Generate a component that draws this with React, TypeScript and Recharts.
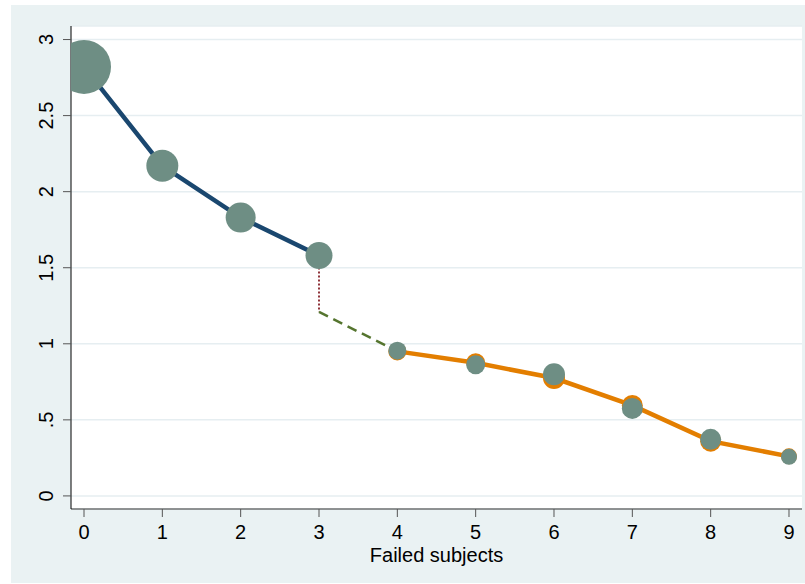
import {
  CartesianGrid,
  ComposedChart,
  Line,
  Scatter,
  XAxis,
  YAxis,
} from "recharts";

// x positions: number of failed subjects
const failed = [0, 1, 2, 3, 4, 5, 6, 7, 8, 9];
// estimate shown by the grey markers
const estimate = [2.82, 2.17, 1.83, 1.58, 0.955, 0.862, 0.8, 0.575, 0.372, 0.257];
// marker weights (area of the circle)
const weight = [729, 256, 225, 182, 81, 90, 121, 110, 110, 64];
// navy segment, x = 0..3
const navyVals = [2.82, 2.17, 1.83, 1.58];
// orange segment, x = 4..9
const orangeVals = [0.95, 0.875, 0.775, 0.595, 0.36, 0.26];
// connector: dotted drop at x=3, dashed link to x=4
const dropVals = [1.58, 1.21];
const linkVals = [1.21, 0.95];

const xTicks = failed;
const yTicks = [0, 0.5, 1, 1.5, 2, 2.5, 3];

const navyData = navyVals.map((v, i) => ({ x: failed[i], y: v }));
const orangeData = orangeVals.map((v, i) => ({ x: failed[i + 4], y: v, w: weight[i + 4] }));
const dropData = dropVals.map((v) => ({ x: failed[3], y: v }));
const linkData = linkVals.map((v, i) => ({ x: failed[3 + i], y: v }));
const markerData = estimate.map((v, i) => ({ x: failed[i], y: v, w: weight[i] }));

const FONT = "'Liberation Sans', Arial, sans-serif";

const fmtY = (v: number) => String(v).replace(/^0\./, ".");

function YTick(props: any) {
  const { x, y, payload } = props;
  const tx = x - 8;
  return (
    <text
      x={tx}
      y={y}
      transform={`rotate(-90, ${tx}, ${y})`}
      textAnchor="middle"
      fontSize={20}
      fontFamily={FONT}
      fill="#000"
    >
      {fmtY(payload.value)}
    </text>
  );
}

const dot = (fill: string) => (p: any) => (
  <circle cx={p.cx} cy={p.cy} r={Math.sqrt(p.payload.w)} fill={fill} />
);

export default function App() {
  return (
    <div
      style={{
        position: "absolute",
        left: 11,
        top: 5,
        width: 794,
        height: 578,
        background: "#eaf2f3",
      }}
    >
      <ComposedChart
        width={794}
        height={578}
        margin={{ top: 21, right: 3, left: 0, bottom: 0 }}
        style={{ fontFamily: FONT }}
      >
        <CartesianGrid
          horizontal
          vertical={false}
          fill="#ffffff"
          stroke="#e6eef1"
          strokeWidth={1.5}
        />
        <XAxis
          type="number"
          dataKey="x"
          domain={[-0.166, 9.166]}
          ticks={xTicks}
          allowDataOverflow
          tickSize={8}
          tickMargin={8}
          axisLine={{ stroke: "#333" }}
          tickLine={{ stroke: "#555" }}
          tick={{ fontSize: 20, fill: "#000", fontFamily: FONT }}
          height={74}
          label={{
            value: "Failed subjects",
            position: "insideBottom",
            offset: 21,
            fontSize: 20,
            fill: "#000",
            fontFamily: FONT,
          }}
        />
        <YAxis
          type="number"
          dataKey="y"
          domain={[-0.086, 3.089]}
          ticks={yTicks}
          allowDataOverflow
          width={60}
          tickSize={8}
          axisLine={{ stroke: "#000" }}
          tickLine={{ stroke: "#555" }}
          tick={<YTick />}
        />
        <Line
          data={navyData}
          dataKey="y"
          stroke="#1a476f"
          strokeWidth={4.5}
          dot={false}
          isAnimationActive={false}
        />
        <Line
          data={dropData}
          dataKey="y"
          stroke="#90353b"
          strokeWidth={2}
          strokeDasharray="2 2"
          dot={false}
          isAnimationActive={false}
        />
        <Line
          data={linkData}
          dataKey="y"
          stroke="#55752f"
          strokeWidth={2.5}
          strokeDasharray="10 6"
          dot={false}
          isAnimationActive={false}
        />
        <Line
          data={orangeData}
          dataKey="y"
          stroke="#e37e00"
          strokeWidth={4.5}
          dot={false}
          isAnimationActive={false}
        />
        <Scatter
          data={orangeData}
          dataKey="y"
          shape={dot("#e37e00")}
          isAnimationActive={false}
        />
        <Scatter
          data={markerData}
          dataKey="y"
          shape={dot("#6e8e84")}
          isAnimationActive={false}
        />
      </ComposedChart>
    </div>
  );
}
